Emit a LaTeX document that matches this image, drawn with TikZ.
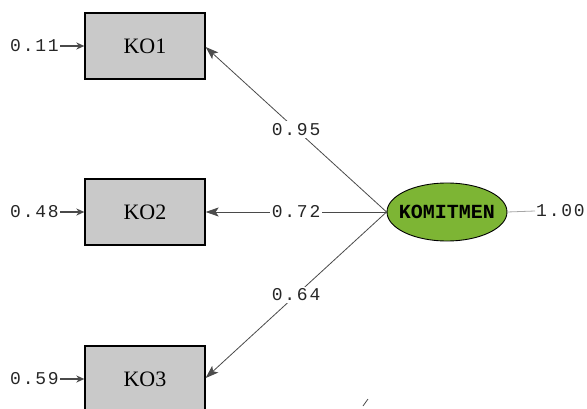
\documentclass[tikz,border=0pt]{standalone}
\usepackage{fontspec}
\setmainfont{Liberation Serif}
\newfontfamily\pathfont[LetterSpace=10]{Liberation Mono}
\newfontfamily\latfont{Liberation Mono}
\usetikzlibrary{arrows.meta, shapes.geometric}
\definecolor{boxgray}{HTML}{C9C9C9}
\definecolor{latgreen}{HTML}{7DB534}
\definecolor{pathgray}{HTML}{4A4A4A}

\begin{document}
\begin{tikzpicture}[x=1pt, y=1pt,
  obsbox/.style={draw=black, line width=1.3pt, fill=boxgray, minimum width=120pt,
    minimum height=66pt, inner sep=0pt, font=\fontsize{22}{22}\selectfont},
  latent/.style={ellipse, draw=black, line width=0.9pt, fill=latgreen,
    inner xsep=-8pt, inner ysep=12pt, minimum width=120pt, minimum height=58pt,
    font=\latfont\bfseries\fontsize{20}{20}\selectfont},
  valtext/.style={inner sep=1pt, text=black!85, font=\pathfont\fontsize{18}{18}\selectfont},
  loading/.style={draw=pathgray, line width=0.8pt,
    -{Stealth[length=13pt, width=9pt, inset=3pt, fill=black!70]}},
  errpath/.style={draw=pathgray, line width=1.6pt,
    -{Stealth[length=8pt, width=7pt, fill=black!70]}},
  pathlabel/.style={fill=white, inner sep=2pt, text=black!85, font=\pathfont\fontsize{18}{18}\selectfont}
]
\useasboundingbox (0,0) rectangle (587,408);

% observed indicators
\node[obsbox] (ko1) at (145,362) {KO1};
\node[obsbox] (ko2) at (145,196) {KO2};
\node[obsbox] (ko3) at (145,29) {KO3};

% latent construct
\node[latent] (kom) at (447,196) {KOMITMEN};

% error variances
\node[valtext, anchor=east] (e1) at (60,362) {0.11};
\node[valtext, anchor=east] (e2) at (60,196) {0.48};
\node[valtext, anchor=east] (e3) at (60,29) {0.59};
\draw[errpath] (e1.east) -- (ko1.west);
\draw[errpath] (e2.east) -- (ko2.west);
\draw[errpath] (e3.east) -- (ko3.west);

% factor loadings
\draw[loading] (kom.west) -- node[pathlabel] {0.95} (ko1.east |- 0,361);
\draw[loading] (kom.west) -- node[pathlabel] {0.72} (ko2.east);
\draw[loading] (kom.west) -- node[pathlabel] {0.64} (ko3.east |- 0,30);

% variance of the latent construct
\node[valtext, anchor=west] (v) at (535,197) {1.00};
\draw[draw=gray!70, line width=0.8pt] (kom.east) -- (v.west);

% stray stroke at the lower edge
\coordinate (s1) at (363,2);
\coordinate (s2) at (368,9);
\draw[line width=0.8pt, pathgray] (s1) -- (s2);
\end{tikzpicture}
\end{document}
